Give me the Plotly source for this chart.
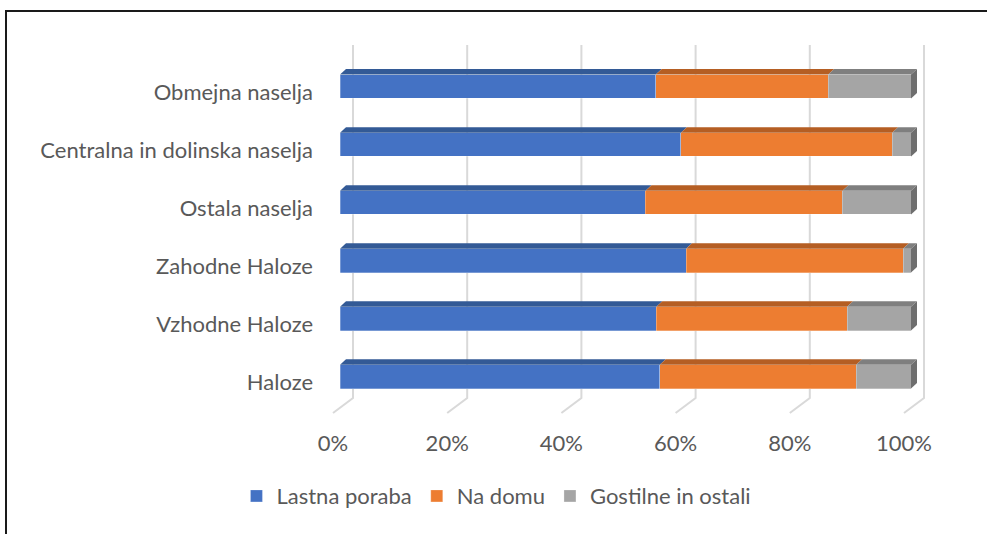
import plotly.graph_objects as go

# Regions, listed bottom to top as they appear on the chart
categories = ["Haloze", "Vzhodne Haloze", "Zahodne Haloze", "Ostala naselja",
              "Centralna in dolinska naselja", "Obmejna naselja"]
series_names = ["Lastna poraba", "Na domu", "Gostilne in ostali"]
lastna_poraba = [56.0, 55.4, 60.6, 53.5, 59.7, 55.3]
na_domu = [34.4, 33.4, 38.0, 34.5, 37.0, 30.2]
gostilne = [9.6, 11.2, 1.4, 12.0, 3.3, 14.5]
tick_values = [0, 20, 40, 60, 80, 100]
tick_labels = ["0%", "20%", "40%", "60%", "80%", "100%"]

front_colors = ["#4472C4", "#ED7D31", "#A5A5A5"]
top_colors = ["#335A96", "#B55E23", "#7F7F7F"]
side_color = "#6E6E6E"
text_color = "#595959"
font_family = "Lato, Open Sans, sans-serif"
font_size = 22

W, H = 987, 534
L, R, T, B = 320, 47, 34, 117
px_per_pct = 5.71          # horizontal scale of the front face
x0_px = 340                # pixel of 0 % on the front face
x_min = (L - x0_px) / px_per_pct
x_max = (W - R - x0_px) / px_per_pct
y_min, y_max = -0.6, 6.0
px_per_cat = (H - T - B) / (y_max - y_min)

bar_width = 0.41
bar_offset = -0.11
depth_dx = 6 / px_per_pct          # 3D depth of a bar, in axis units
depth_dy = 5.5 / px_per_cat
grid_back_dx = 13 / px_per_pct     # back wall sits behind the bars
floor_front_dx = -7 / px_per_pct
grid_top = y_min + (H - B - 45) / px_per_cat
grid_bottom = y_min + (H - B - 398) / px_per_cat
floor_front = y_min + (H - B - 413) / px_per_cat

ypos = list(range(len(categories)))
series = [lastna_poraba, na_domu, gostilne]

fig = go.Figure()
for name, vals, col in zip(series_names, series, front_colors):
    fig.add_trace(go.Bar(
        y=ypos, x=vals, name=name, orientation="h",
        width=bar_width, offset=bar_offset,
        marker=dict(color=col, line=dict(color="rgba(255,255,255,0.35)", width=0.8)),
        hoverinfo="skip",
    ))

shapes = []
# back wall gridlines with their floor diagonals
for v in tick_values:
    xb = v + grid_back_dx
    xf = v + floor_front_dx
    shapes.append(dict(type="path", xref="x", yref="y", layer="below",
                       path=f"M {xb},{grid_top} L {xb},{grid_bottom} L {xf},{floor_front}",
                       line=dict(color="#D9D9D9", width=2)))

# top faces of every segment and the right side face of each bar
for i in ypos:
    top = i + bar_offset + bar_width
    bottom = i + bar_offset
    start = 0.0
    for vals, tcol in zip(series, top_colors):
        end = start + vals[i]
        shapes.append(dict(
            type="path", xref="x", yref="y", layer="above",
            path=(f"M {start},{top} L {start + depth_dx},{top + depth_dy} "
                  f"L {end + depth_dx},{top + depth_dy} L {end},{top} Z"),
            fillcolor=tcol, line=dict(width=0)))
        start = end
    shapes.append(dict(
        type="path", xref="x", yref="y", layer="above",
        path=(f"M {start},{bottom} L {start},{top} L {start + depth_dx},{top + depth_dy} "
              f"L {start + depth_dx},{bottom + depth_dy} Z"),
        fillcolor=side_color, line=dict(width=0)))

# chart frame
plot_w = W - L - R
plot_h = H - T - B
shapes.append(dict(type="rect", xref="paper", yref="paper", layer="above",
                   x0=(6 - L) / plot_w, x1=(W + 20 - L) / plot_w,
                   y0=-(H + 20 - (H - B)) / plot_h, y1=((H - B) - 11) / plot_h,
                   line=dict(color="#1A1A1A", width=2), fillcolor="rgba(0,0,0,0)"))

fig.update_layout(
    width=W, height=H,
    margin=dict(l=L, r=R, t=T, b=B),
    barmode="stack",
    plot_bgcolor="white", paper_bgcolor="white",
    font=dict(family=font_family, color=text_color, size=font_size),
    shapes=shapes,
    showlegend=True,
    legend=dict(orientation="h", xref="container", yref="container",
                x=0.503, xanchor="center", y=0.071, yanchor="middle",
                font=dict(size=font_size, color=text_color), itemwidth=30,
                traceorder="normal"),
    xaxis=dict(range=[x_min, x_max], tickvals=tick_values, ticktext=tick_labels,
               showgrid=False, zeroline=False, showline=False, ticks="",
               ticklabelshift=-7, ticklabelstandoff=11,
               tickfont=dict(size=font_size, color=text_color)),
    yaxis=dict(range=[y_min, y_max], tickvals=ypos, ticktext=categories,
               showgrid=False, zeroline=False, showline=False, ticks="",
               ticklabelstandoff=6,
               tickfont=dict(size=font_size, color=text_color)),
)

fig.write_html("out.html")
